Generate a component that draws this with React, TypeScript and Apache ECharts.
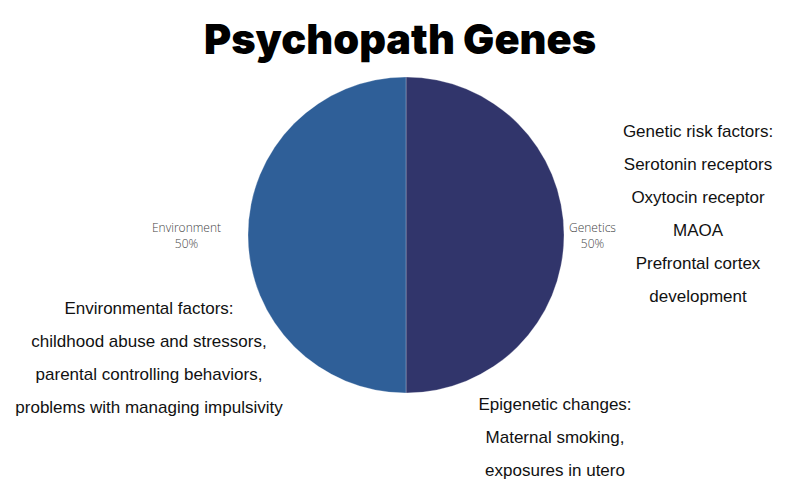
import React, { useEffect, useRef } from "react";
import * as echarts from "echarts";

const categories = ["Genetics", "Environment"];
const values = [50, 50];
const colors = ["#31356B", "#2F5F98"];

const titleText = "Psychopath Genes";
const geneticNotes = [
  "Genetic risk factors:",
  "Serotonin receptors",
  "Oxytocin receptor",
  "MAOA",
  "Prefrontal cortex",
  "development",
];
const environmentNotes = [
  "Environmental factors:",
  "childhood abuse and stressors,",
  "parental controlling behaviors,",
  "problems with managing impulsivity",
];
const epigeneticNotes = [
  "Epigenetic changes:",
  "Maternal smoking,",
  "exposures in utero",
];

const labelGaps = [0, 22];

export default function App() {
  const ref = useRef<HTMLDivElement>(null);
  useEffect(() => {
    if (!ref.current) return;
    const chart = echarts.init(ref.current, undefined, { renderer: "svg" });
    const noteFont = "17px 'Liberation Sans', Arial, sans-serif";
    const note = (lines: string[], x: number, y: number) => ({
      type: "text",
      x,
      y,
      style: {
        text: lines.join("\n"),
        font: noteFont,
        fill: "#111",
        align: "center",
        verticalAlign: "middle",
        lineHeight: 33,
      },
    });
    chart.setOption({
      animation: false,
      backgroundColor: "#ffffff",
      title: {
        text: titleText,
        left: "center",
        top: 13,
        textStyle: {
          fontFamily: "Inter",
          fontWeight: 900,
          fontSize: 41.5,
          color: "#000",
        },
      },
      series: [
        {
          type: "pie",
          center: [406, 235],
          radius: 158,
          startAngle: 90,
          clockwise: true,
          silent: true,
          itemStyle: { borderColor: "rgba(255,255,255,0.25)", borderWidth: 1 },
          label: {
            show: true,
            position: "outside",
            distanceToLabelLine: 5,
            formatter: "{n|{b}}\n{n|{d}%}",
            rich: {
              n: {
                align: "center",
                fontFamily: "'Open Sans'",
                fontWeight: 300,
                fontSize: 12,
                lineHeight: 16,
                color: "#444",
              },
            },
          },
          data: categories.map((c, i) => ({
            name: c,
            value: values[i],
            itemStyle: { color: colors[i] },
            labelLine: { show: false, length: 0, length2: labelGaps[i] },
          })),
        },
      ],
      graphic: [
        note(geneticNotes, 698, 214),
        note(environmentNotes, 149, 358),
        note(epigeneticNotes, 555, 437),
      ],
    });
    return () => chart.dispose();
  }, []);
  return (
    <div
      ref={ref}
      style={{ position: "fixed", left: 0, top: 0, width: 800, height: 500 }}
    />
  );
}
